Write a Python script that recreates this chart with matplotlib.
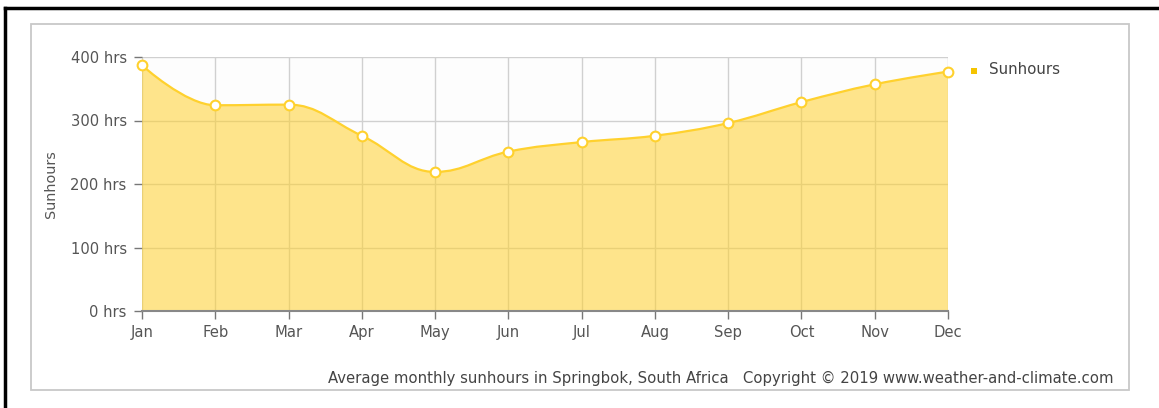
import matplotlib as mpl
mpl.use('Agg')
import matplotlib.pyplot as plt
from matplotlib.path import Path
from matplotlib.patches import PathPatch, Rectangle
from matplotlib.lines import Line2D
import numpy as np

months = ['Jan', 'Feb', 'Mar', 'Apr', 'May', 'Jun', 'Jul', 'Aug', 'Sep', 'Oct', 'Nov', 'Dec']
sunhours = [387, 324, 325, 276, 219, 251, 266, 276, 296, 329, 357, 377]
y_ticks = [0, 100, 200, 300, 400]
y_labels = ['0 hrs', '100 hrs', '200 hrs', '300 hrs', '400 hrs']

line_col = '#FFD12E'
fill_col = '#FFD12E'
text_col = '#555555'
grid_col = '#D0D0D0'

W, H = 1159, 408
fig = plt.figure(figsize=(W / 100, H / 100), dpi=100)
plt.rcParams['font.family'] = ['DejaVu Sans']


def fx(px):
    return px / W


def fy(py):
    return 1 - py / H


# plot area in pixel coords
left, right, top, bottom = 142, 948, 57, 311
ax = fig.add_axes([fx(left), fy(bottom), fx(right) - fx(left), fy(top) - fy(bottom)])

x = np.arange(len(months))
y = np.array(sunhours, dtype=float)


# spline path (Highcharts-style smoothing)
def spline_path(xs, ys):
    sm = 1.5
    den = sm + 1
    n = len(xs)
    lc = [None] * n
    rc = [None] * n
    for i in range(1, n - 1):
        px, py = xs[i], ys[i]
        lx, ly = xs[i - 1], ys[i - 1]
        nx, ny = xs[i + 1], ys[i + 1]
        lcx = (sm * px + lx) / den
        lcy = (sm * py + ly) / den
        rcx = (sm * px + nx) / den
        rcy = (sm * py + ny) / den
        if rcx != lcx:
            corr = (rcy - lcy) * (rcx - px) / (rcx - lcx) + py - rcy
            lcy += corr
            rcy += corr
        if lcy > ly and lcy > py:
            lcy = max(ly, py)
            rcy = 2 * py - lcy
        elif lcy < ly and lcy < py:
            lcy = min(ly, py)
            rcy = 2 * py - lcy
        if rcy > ny and rcy > py:
            rcy = max(ny, py)
            lcy = 2 * py - rcy
        elif rcy < ny and rcy < py:
            rcy = min(ny, py)
            lcy = 2 * py - rcy
        lc[i] = (lcx, lcy)
        rc[i] = (rcx, rcy)
    verts = [(xs[0], ys[0])]
    codes = [Path.MOVETO]
    for i in range(1, n):
        c1 = rc[i - 1] if rc[i - 1] is not None else (xs[i - 1], ys[i - 1])
        c2 = lc[i] if lc[i] is not None else (xs[i], ys[i])
        verts += [c1, c2, (xs[i], ys[i])]
        codes += [Path.CURVE4] * 3
    return verts, codes


ax.set_xlim(0, len(months) - 1)
ax.set_ylim(0, 400)

# smooth in pixel-like units so the curve shape matches
sx = (right - left) / (len(months) - 1)
sy = (bottom - top) / 400.0
verts, codes = spline_path(x * sx, y * sy)
verts = [(vx / sx, vy / sy) for vx, vy in verts]

line_path = Path(verts, codes)
fill_verts = verts + [(x[-1], 0), (x[0], 0), verts[0]]
fill_codes = codes + [Path.LINETO, Path.LINETO, Path.CLOSEPOLY]
ax.add_patch(PathPatch(Path(fill_verts, fill_codes), facecolor=fill_col, alpha=0.55,
                       edgecolor='none', zorder=2))
ax.add_patch(PathPatch(line_path, facecolor='none', edgecolor=line_col, lw=1.6, zorder=3))
ax.plot(x, y, 'o', ms=7, mfc='white', mec=line_col, mew=1.5, zorder=4, clip_on=False)

ax.set_facecolor('#FDFDFD')
ax.set_xticks(x)
ax.set_xticklabels(months)
ax.set_yticks(y_ticks)
ax.set_yticklabels(y_labels)
ax.grid(True, color=grid_col, lw=1, zorder=0)
ax.set_axisbelow(True)
for s in ['top', 'right', 'left']:
    ax.spines[s].set_visible(False)
ax.spines['bottom'].set_color('#888888')
ax.spines['bottom'].set_linewidth(1.5)
ax.tick_params(axis='both', colors='#777777', labelcolor=text_col, labelsize=10.6, length=6, width=1)
ax.tick_params(axis='x', pad=4)
ax.tick_params(axis='y', pad=5)
ax.set_ylabel('Sunhours', color=text_col, fontsize=10.4, labelpad=9)

# legend
fig.patches.append(Rectangle((fx(971), fy(74)), 6 / W, 6 / H, transform=fig.transFigure,
                             facecolor='#F5C400', edgecolor='none'))
fig.text(fx(989), fy(70), 'Sunhours', color='#444444', fontsize=10.9, va='center', ha='left')

# credits
fig.text(fx(1114), fy(378), 'Average monthly sunhours in Springbok, South Africa   Copyright \u00a9 2019 www.weather-and-climate.com',
         color='#444444', fontsize=10.7, va='center', ha='right')

# frames
fig.patches.append(Rectangle((fx(31), fy(390)), (1129 - 31) / W, (390 - 24) / H,
                             transform=fig.transFigure, facecolor='none', edgecolor='#C8C8C8', lw=1.3))
fig.lines.append(Line2D([fx(5), fx(5)], [fy(8), 0], transform=fig.transFigure, color='black', lw=2.5))
fig.lines.append(Line2D([fx(5), 1], [fy(8), fy(8)], transform=fig.transFigure, color='black', lw=2.5))

fig.savefig('out.png', dpi=100, facecolor='white')
